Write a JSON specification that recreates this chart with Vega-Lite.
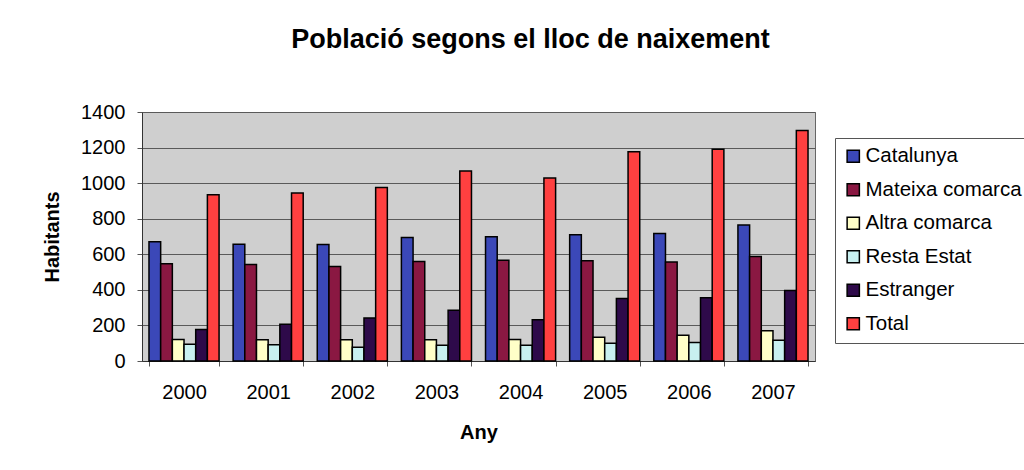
{
  "$schema": "https://vega.github.io/schema/vega-lite/v6.json",
  "width": 673,
  "height": 249,
  "autosize": {"type": "none"},
  "padding": {"left": 142, "top": 112, "right": 209, "bottom": 109},
  "background": "white",
  "title": {
    "text": "Població segons el lloc de naixement",
    "font": "Liberation Sans",
    "fontSize": 27,
    "fontWeight": "bold",
    "color": "black",
    "anchor": "middle",
    "dx": 52,
    "offset": 48
  },
  "data": {
    "values": [
      {"Any": "2000", "Serie": "Catalunya", "Habitants": 670},
      {"Any": "2000", "Serie": "Mateixa comarca", "Habitants": 547},
      {"Any": "2000", "Serie": "Altra comarca", "Habitants": 121},
      {"Any": "2000", "Serie": "Resta Estat", "Habitants": 94},
      {"Any": "2000", "Serie": "Estranger", "Habitants": 177},
      {"Any": "2000", "Serie": "Total", "Habitants": 935},
      {"Any": "2001", "Serie": "Catalunya", "Habitants": 657},
      {"Any": "2001", "Serie": "Mateixa comarca", "Habitants": 542},
      {"Any": "2001", "Serie": "Altra comarca", "Habitants": 120},
      {"Any": "2001", "Serie": "Resta Estat", "Habitants": 92},
      {"Any": "2001", "Serie": "Estranger", "Habitants": 206},
      {"Any": "2001", "Serie": "Total", "Habitants": 945},
      {"Any": "2002", "Serie": "Catalunya", "Habitants": 655},
      {"Any": "2002", "Serie": "Mateixa comarca", "Habitants": 532},
      {"Any": "2002", "Serie": "Altra comarca", "Habitants": 120},
      {"Any": "2002", "Serie": "Resta Estat", "Habitants": 78},
      {"Any": "2002", "Serie": "Estranger", "Habitants": 242},
      {"Any": "2002", "Serie": "Total", "Habitants": 975},
      {"Any": "2003", "Serie": "Catalunya", "Habitants": 695},
      {"Any": "2003", "Serie": "Mateixa comarca", "Habitants": 559},
      {"Any": "2003", "Serie": "Altra comarca", "Habitants": 120},
      {"Any": "2003", "Serie": "Resta Estat", "Habitants": 89},
      {"Any": "2003", "Serie": "Estranger", "Habitants": 285},
      {"Any": "2003", "Serie": "Total", "Habitants": 1068},
      {"Any": "2004", "Serie": "Catalunya", "Habitants": 698},
      {"Any": "2004", "Serie": "Mateixa comarca", "Habitants": 566},
      {"Any": "2004", "Serie": "Altra comarca", "Habitants": 121},
      {"Any": "2004", "Serie": "Resta Estat", "Habitants": 89},
      {"Any": "2004", "Serie": "Estranger", "Habitants": 232},
      {"Any": "2004", "Serie": "Total", "Habitants": 1029},
      {"Any": "2005", "Serie": "Catalunya", "Habitants": 710},
      {"Any": "2005", "Serie": "Mateixa comarca", "Habitants": 564},
      {"Any": "2005", "Serie": "Altra comarca", "Habitants": 134},
      {"Any": "2005", "Serie": "Resta Estat", "Habitants": 100},
      {"Any": "2005", "Serie": "Estranger", "Habitants": 351},
      {"Any": "2005", "Serie": "Total", "Habitants": 1176},
      {"Any": "2006", "Serie": "Catalunya", "Habitants": 717},
      {"Any": "2006", "Serie": "Mateixa comarca", "Habitants": 557},
      {"Any": "2006", "Serie": "Altra comarca", "Habitants": 145},
      {"Any": "2006", "Serie": "Resta Estat", "Habitants": 104},
      {"Any": "2006", "Serie": "Estranger", "Habitants": 355},
      {"Any": "2006", "Serie": "Total", "Habitants": 1190},
      {"Any": "2007", "Serie": "Catalunya", "Habitants": 764},
      {"Any": "2007", "Serie": "Mateixa comarca", "Habitants": 587},
      {"Any": "2007", "Serie": "Altra comarca", "Habitants": 170},
      {"Any": "2007", "Serie": "Resta Estat", "Habitants": 117},
      {"Any": "2007", "Serie": "Estranger", "Habitants": 396},
      {"Any": "2007", "Serie": "Total", "Habitants": 1296}
    ]
  },
  "mark": {"type": "bar", "stroke": "black", "strokeWidth": 1.5},
  "encoding": {
    "x": {
      "field": "Any",
      "type": "nominal",
      "scale": {"paddingInner": 0.167, "paddingOuter": 0.083},
      "axis": {
        "title": "Any",
        "labelAngle": 0,
        "labelFont": "Liberation Sans",
        "labelFontSize": 20,
        "labelColor": "black",
        "labelPadding": 16,
        "tickBand": "extent",
        "tickSize": 5,
        "tickColor": "#555555",
        "domainColor": "#333333",
        "titleFont": "Liberation Sans",
        "titleFontSize": 20,
        "titleFontWeight": "bold",
        "titleColor": "black",
        "titlePadding": 20
      }
    },
    "xOffset": {
      "field": "Serie",
      "type": "nominal",
      "sort": ["Catalunya", "Mateixa comarca", "Altra comarca", "Resta Estat", "Estranger", "Total"],
      "scale": {"paddingInner": 0, "paddingOuter": 0}
    },
    "y": {
      "field": "Habitants",
      "type": "quantitative",
      "scale": {"domain": [0, 1400], "nice": false},
      "axis": {
        "title": "Habitants",
        "format": "d",
        "values": [0, 200, 400, 600, 800, 1000, 1200, 1400],
        "labelFont": "Liberation Sans",
        "labelFontSize": 20,
        "labelColor": "black",
        "labelPadding": 12,
        "tickSize": 5,
        "tickColor": "#555555",
        "domainColor": "#333333",
        "gridColor": "#5a5a5a",
        "gridWidth": 1,
        "titleFont": "Liberation Sans",
        "titleFontSize": 20,
        "titleFontWeight": "bold",
        "titleColor": "black",
        "titlePadding": 18
      }
    },
    "color": {
      "field": "Serie",
      "type": "nominal",
      "sort": ["Catalunya", "Mateixa comarca", "Altra comarca", "Resta Estat", "Estranger", "Total"],
      "scale": {
        "domain": ["Catalunya", "Mateixa comarca", "Altra comarca", "Resta Estat", "Estranger", "Total"],
        "range": ["#3b48b8", "#8a1842", "#ffffc8", "#c8f0f0", "#2e0a4a", "#ff4040"]
      },
      "legend": {
        "title": null,
        "orient": "none",
        "legendX": 693,
        "legendY": 26,
        "padding": 8,
        "fillColor": "white",
        "strokeColor": "#555555",
        "symbolType": "square",
        "symbolSize": 150,
        "symbolStrokeColor": "black",
        "symbolStrokeWidth": 1.5,
        "symbolOpacity": 1,
        "labelFont": "Liberation Sans",
        "labelFontSize": 20.5,
        "labelColor": "black",
        "labelOffset": 2,
        "rowPadding": 12.5,
        "labelLimit": 300
      }
    }
  },
  "config": {
    "view": {"fill": "#cfcfcf", "stroke": "#666666", "strokeWidth": 1}
  }
}
